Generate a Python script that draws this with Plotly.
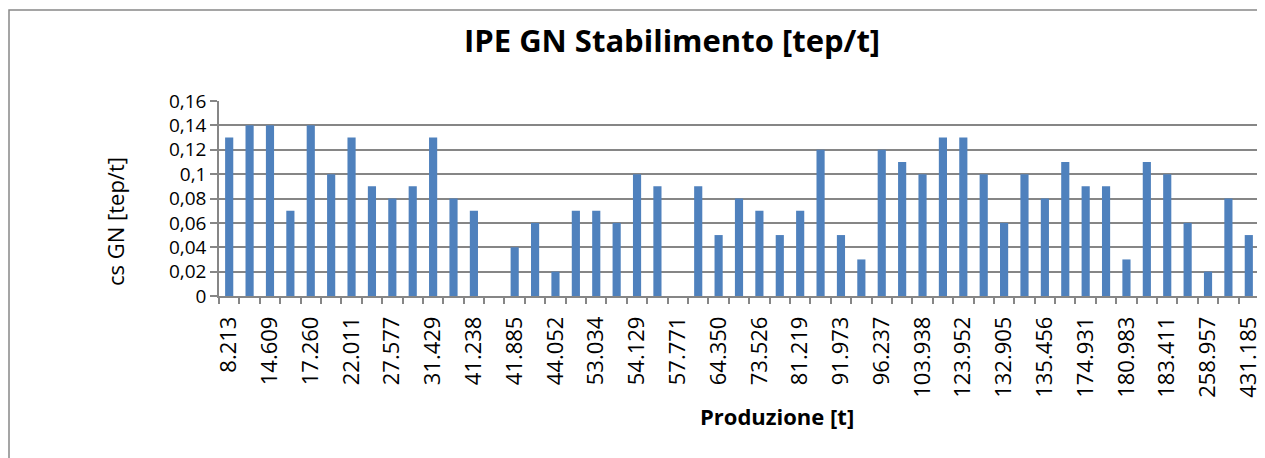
import plotly.graph_objects as go

# visible tick labels (every other category)
tick_labels = ["8.213", "14.609", "17.260", "22.011", "27.577", "31.429", "41.238",
               "41.885", "44.052", "53.034", "54.129", "57.771", "64.350", "73.526",
               "81.219", "91.973", "96.237", "103.938", "123.952", "132.905", "135.456",
               "174.931", "180.983", "183.411", "258.957", "431.185"]

# cs GN [tep/t] for each of the 51 categories
values = [0.13, 0.14, 0.14, 0.07, 0.14, 0.10, 0.13, 0.09, 0.08, 0.09,
          0.13, 0.08, 0.07, 0.00, 0.04, 0.06, 0.02, 0.07, 0.07, 0.06,
          0.10, 0.09, 0.00, 0.09, 0.05, 0.08, 0.07, 0.05, 0.07, 0.12,
          0.05, 0.03, 0.12, 0.11, 0.10, 0.13, 0.13, 0.10, 0.06, 0.10,
          0.08, 0.11, 0.09, 0.09, 0.03, 0.11, 0.10, 0.06, 0.02, 0.08, 0.05]

y_ticks = [0, 0.02, 0.04, 0.06, 0.08, 0.10, 0.12, 0.14, 0.16]
y_ticktext = ["0", "0,02", "0,04", "0,06", "0,08", "0,1", "0,12", "0,14", "0,16"]

n = len(values)
idx = list(range(n))

OFF = 8  # page body margin
W, H = 1265 - OFF, 458 - OFF
L, T = 219 - OFF, 101 - OFF
R = W - (1259 - OFF)
B = H - (296 - OFF)
pw, ph = W - L - R, H - T - B

def px(x):
    return (x - OFF - L) / pw

def py(y):
    return (H - B - (y - OFF)) / ph

FONT = "Open Sans"
GRID = "#868686"

fig = go.Figure(go.Bar(x=idx, y=values, marker=dict(color="#4F81BD", line=dict(width=0)),
                       width=0.4))

fig.update_layout(
    template="none",
    width=W, height=H,
    margin=dict(l=L, r=R, t=T, b=B, autoexpand=False),
    paper_bgcolor="white", plot_bgcolor="white",
    showlegend=False,
    font=dict(family=FONT, color="black"),
    xaxis=dict(
        automargin=False,
        range=[-0.5, n - 0.5],
        tickvals=idx[::2], ticktext=tick_labels, tickangle=-90,
        ticks="outside", ticklen=10, tickcolor="rgba(0,0,0,0)",
        tickfont=dict(size=22),
        showgrid=False, zeroline=False,
        showline=True, linecolor=GRID, linewidth=1.5,
        minor=dict(tickvals=[i - 0.5 for i in range(n + 1)], ticks="outside",
                   ticklen=6, tickcolor=GRID, tickwidth=1.5, showgrid=False),
    ),
    yaxis=dict(
        automargin=False,
        range=[0, 0.16],
        tickvals=y_ticks, ticktext=y_ticktext,
        tickfont=dict(size=19),
        ticks="outside", ticklen=7, tickcolor=GRID, tickwidth=1.5,
        showgrid=True, gridcolor=GRID, gridwidth=1.5,
        zeroline=False, showline=True, linecolor=GRID, linewidth=1.5,
    ),
    shapes=[dict(type="rect", xref="paper", yref="paper",
                 x0=px(OFF + 1), x1=px(1265 + 20), y0=py(458 + 20), y1=py(10),
                 line=dict(color="#888888", width=1.5), fillcolor="rgba(0,0,0,0)",
                 layer="below")],
    annotations=[
        dict(text="<b>IPE GN Stabilimento [tep/t]</b>", xref="paper", yref="paper",
             x=px(672), y=py(40), showarrow=False, font=dict(size=31, family=FONT),
             xanchor="center", yanchor="middle"),
        dict(text="<b>Produzione [t]</b>", xref="paper", yref="paper",
             x=px(777), y=py(416), showarrow=False, font=dict(size=22, family=FONT),
             xanchor="center", yanchor="middle"),
        dict(text="cs GN [tep/t]", xref="paper", yref="paper", textangle=-90,
             x=px(115), y=py(222), showarrow=False, font=dict(size=22, family=FONT),
             xanchor="center", yanchor="middle"),
    ],
)

fig.write_html("out.html")
